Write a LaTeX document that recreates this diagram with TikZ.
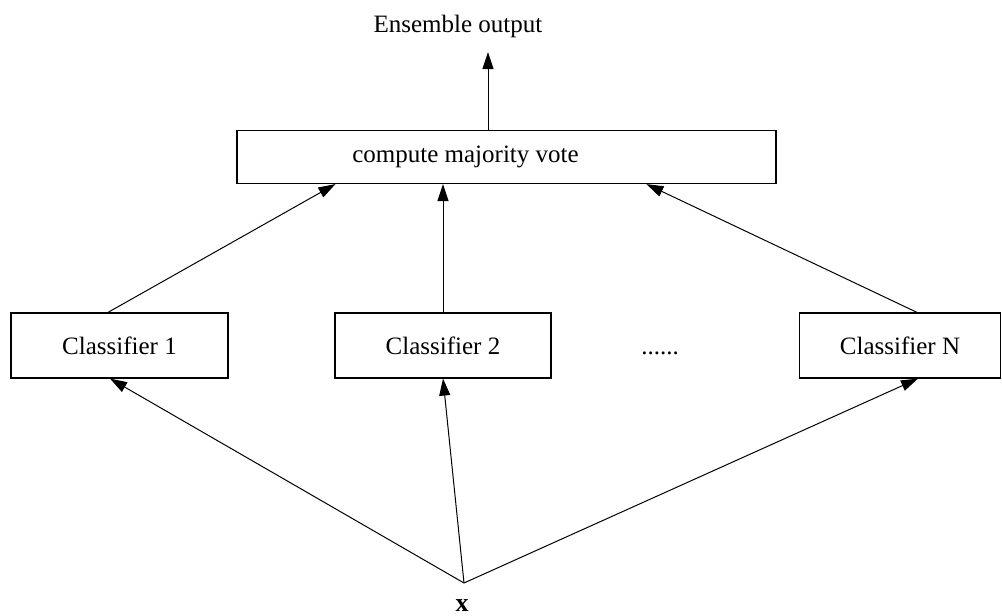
\documentclass[tikz,border=0pt]{standalone}
\usepackage{fontspec}
\setmainfont{Liberation Serif}
\usetikzlibrary{arrows.meta}
\begin{document}
\begin{tikzpicture}[x={(0.5pt,0)},y={(0,-0.5pt)},
  font=\fontsize{12.5}{15}\selectfont,
  box/.style={draw,line width=0.6pt,minimum height=32.5pt,inner sep=0pt},
  arr/.style={line width=0.5pt,-{Triangle[length=8.5pt,width=5.5pt]}}]
\useasboundingbox (0,0) rectangle (1002,616);
\node[box,minimum width=269.5pt,minimum height=26.5pt] (mv) at (506.5,157) {\hspace*{-41pt}compute majority vote};
\node[anchor=south,inner sep=0pt,inner ysep=7pt] (out) at (458,52) {Ensemble output};
\node[box,minimum width=108.5pt] (c1) at (119.5,345.5) {Classifier 1};
\node[box,minimum width=108pt] (c2) at (443,345.5) {Classifier 2};
\node[box,minimum width=100.5pt] (cN) at (900,345.5) {Classifier N};
\node (dots) at (660,353) {......};
\coordinate (xin) at (464,583);
\node[font=\fontsize{13}{15}\selectfont\bfseries,inner sep=0pt,anchor=base] (xl) at (462,611) {x};
\draw[arr] ([xshift=-9.25pt]mv.north) -- ([xshift=15pt]out.south);
\draw[arr] ([xshift=-5.75pt]c1.north) -- ([xshift=49.5pt]mv.south west);
\draw[arr] (c2.north) -- (c2.north |- mv.south);
\draw[arr] ([xshift=8.5pt]cN.north) -- ([xshift=205pt]mv.south west);
\draw[arr] (xin) -- ([xshift=-4.75pt]c1.south);
\draw[arr] (xin) -- (c2.south);
\draw[arr] (xin) -- ([xshift=9pt]cN.south);
\end{tikzpicture}
\end{document}
